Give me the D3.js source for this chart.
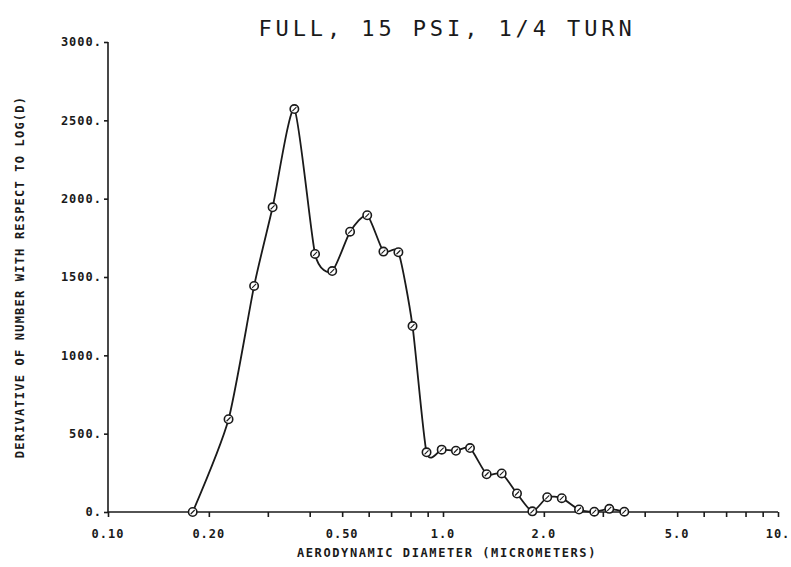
<!DOCTYPE html>
<html>
<head>
<meta charset="utf-8">
<script src="https://cdn.jsdelivr.net/npm/d3@7"></script>
<style>
  body { margin: 0; background: #fff; }
  text { font-family: "DejaVu Sans Mono", "Liberation Mono", monospace; fill: #1a1a1a; }
</style>
</head>
<body>
<svg id="my_svg"></svg>
<script>
const width = 791;
const height = 567;

// diameters (micrometers) and dN/dlogD
const diameters = [0.179, 0.229, 0.273, 0.310, 0.360, 0.415, 0.467, 0.528, 0.594, 0.664,
    0.736, 0.811, 0.893, 0.991, 1.093, 1.204, 1.350, 1.497, 1.663, 1.848,
    2.047, 2.262, 2.547, 2.829, 3.136, 3.477];
const counts = [0, 592, 1443, 1945, 2572, 1647, 1538, 1789, 1894, 1662,
    1658, 1187, 381, 398, 391, 408, 241, 246, 118, 4,
    94, 88, 16, 2, 20, 2];

const xTicks = [0.1, 0.2, 0.3, 0.4, 0.5, 0.6, 0.7, 0.8, 0.9, 1, 2, 3, 4, 5, 6, 7, 8, 9, 10];
const xLabels = [[0.1, '0.10'], [0.2, '0.20'], [0.5, '0.50'], [1, '1.0'], [2, '2.0'], [5, '5.0'], [10, '10.']];
const yTicks = [0, 500, 1000, 1500, 2000, 2500, 3000];

const svg = d3.select('#my_svg')
    .attr('width', width)
    .attr('height', height);

const x = d3.scaleLog().domain([0.1, 10]).range([108, 778]);
const y = d3.scaleLinear().domain([0, 3000]).range([512, 42]);

const ink = '#1a1a1a';

// title
svg.append('text')
    .attr('x', 447)
    .attr('y', 36)
    .attr('text-anchor', 'middle')
    .attr('font-size', 22)
    .attr('letter-spacing', 3.9)
    .text('FULL, 15 PSI, 1/4 TURN');

// x axis
const xAxis = svg.append('g')
    .attr('transform', `translate(0,${y(0)})`)
    .call(d3.axisBottom(x).tickValues(xTicks).tickSize(5).tickFormat(''));
xAxis.select('.domain').attr('stroke', ink).attr('stroke-width', 1.6).attr('d', `M${x(0.1)},0H${x(10)}`);
xAxis.selectAll('.tick line').attr('stroke', ink).attr('stroke-width', 1.6);

svg.append('g')
    .selectAll('text')
    .data(xLabels)
    .enter().append('text')
    .attr('x', d => x(d[0]))
    .attr('y', 538)
    .attr('text-anchor', 'middle')
    .attr('font-size', 12)
    .attr('font-weight', 'bold')
    .attr('letter-spacing', 1)
    .text(d => d[1]);

svg.append('text')
    .attr('x', 447)
    .attr('y', 557)
    .attr('text-anchor', 'middle')
    .attr('font-size', 12)
    .attr('font-weight', 'bold')
    .attr('letter-spacing', 1.6)
    .text('AERODYNAMIC DIAMETER (MICROMETERS)');

// y axis
const yAxis = svg.append('g')
    .attr('transform', `translate(${x(0.1)},0)`)
    .call(d3.axisLeft(y).tickValues(yTicks).tickSize(4).tickFormat(d => d + '.'));
yAxis.select('.domain').attr('stroke', ink).attr('stroke-width', 1.6).attr('d', `M0,${y(0)}V${y(3000)}`);
yAxis.selectAll('.tick line').attr('stroke', ink).attr('stroke-width', 1.6);
yAxis.selectAll('.tick text')
    .attr('x', -6)
    .attr('font-size', 12)
    .attr('font-weight', 'bold')
    .attr('letter-spacing', 1)
    .attr('font-family', '"DejaVu Sans Mono", monospace')
    .attr('fill', ink);

svg.append('text')
    .attr('transform', 'translate(24,277) rotate(-90)')
    .attr('text-anchor', 'middle')
    .attr('font-size', 12)
    .attr('font-weight', 'bold')
    .attr('letter-spacing', 1.2)
    .text('DERIVATIVE OF NUMBER WITH RESPECT TO LOG(D)');

// curve
const pts = diameters.map((d, i) => [d, counts[i]]);

const line = d3.line()
    .x(d => x(d[0]))
    .y(d => y(d[1]))
    .curve(d3.curveCardinal.tension(0.35));

svg.append('path')
    .datum(pts)
    .attr('d', line)
    .attr('fill', 'none')
    .attr('stroke', ink)
    .attr('stroke-width', 1.8);

const marks = svg.append('g')
    .selectAll('g')
    .data(pts)
    .enter().append('g')
    .attr('transform', d => `translate(${x(d[0])},${y(d[1])})`);
marks.append('circle')
    .attr('r', 4.2)
    .attr('fill', '#fff')
    .attr('stroke', ink)
    .attr('stroke-width', 1.6);
marks.append('line')
    .attr('x1', -2).attr('y1', 2)
    .attr('x2', 2).attr('y2', -2)
    .attr('stroke', ink)
    .attr('stroke-width', 1.1);
</script>
</body>
</html>
